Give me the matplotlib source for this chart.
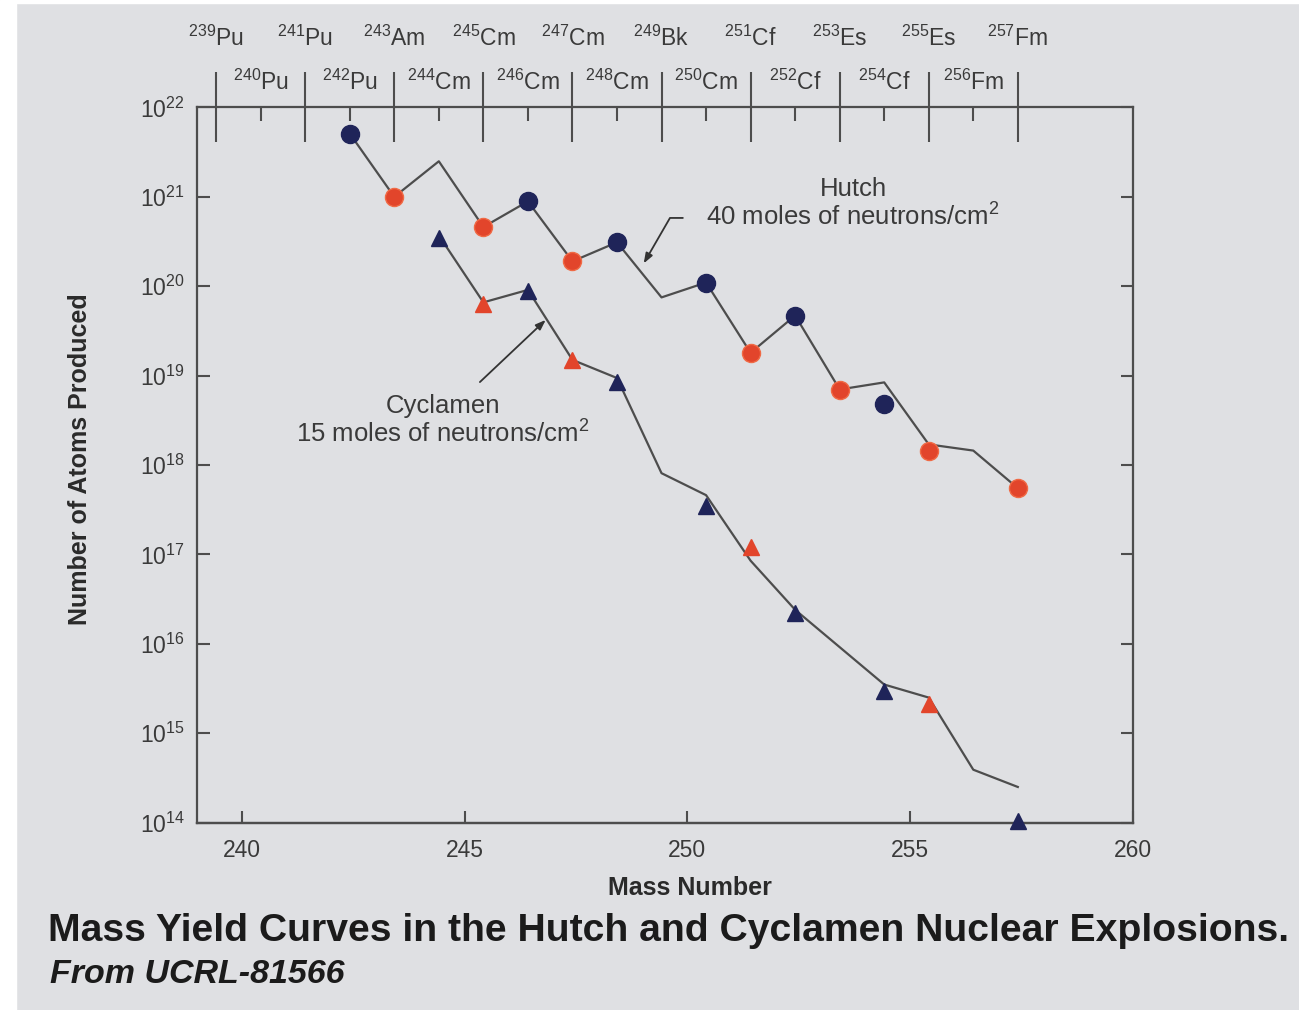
import matplotlib
matplotlib.use('Agg')
import matplotlib.pyplot as plt
from matplotlib.patches import Rectangle
from matplotlib.ticker import NullLocator, LogFormatterMathtext

plt.rcParams['font.family'] = ['Liberation Sans', 'DejaVu Sans']
plt.rcParams['mathtext.fontset'] = 'custom'
plt.rcParams['mathtext.rm'] = 'Liberation Sans'
plt.rcParams['mathtext.it'] = 'Liberation Sans:italic'
plt.rcParams['mathtext.bf'] = 'Liberation Sans:bold'

# isotope scale along the top (odd masses on the upper row, even below)
odd_mass = [239, 241, 243, 245, 247, 249, 251, 253, 255, 257]
odd_elem = ['Pu', 'Pu', 'Am', 'Cm', 'Cm', 'Bk', 'Cf', 'Es', 'Es', 'Fm']
even_mass = [240, 242, 244, 246, 248, 250, 252, 254, 256]
even_elem = ['Pu', 'Pu', 'Cm', 'Cm', 'Cm', 'Cm', 'Cf', 'Cf', 'Fm']

# Hutch: curve and measured points (atoms produced)
hutch_mass = [242, 243, 244, 245, 246, 247, 248, 249, 250, 251, 252, 253, 254, 255, 256, 257]
hutch_curve = [5.1e21, 1.0e21, 2.5e21, 4.6e20, 8.9e20, 1.9e20, 3.1e20, 7.5e19,
               1.1e20, 1.8e19, 4.7e19, 7.0e18, 8.4e18, 1.7e18, 1.45e18, 5.5e17]
hutch_blue_mass = [242, 246, 248, 250, 252, 254]
hutch_blue = [5.1e21, 8.9e20, 3.1e20, 1.1e20, 4.7e19, 4.8e18]
hutch_red_mass = [243, 245, 247, 251, 253, 255, 257]
hutch_red = [1.0e21, 4.6e20, 1.9e20, 1.8e19, 6.9e18, 1.45e18, 5.5e17]

# Cyclamen: curve and measured points
cyc_mass = [244, 245, 246, 247, 248, 249, 250, 251, 252, 254, 255, 256, 257]
cyc_curve = [3.7e20, 6.6e19, 9.1e19, 1.5e19, 9.4e18, 8.1e17, 4.6e17, 8.5e16,
             2.4e16, 3.5e15, 2.5e15, 3.9e14, 2.5e14]
cyc_blue_mass = [244, 246, 248, 250, 252, 254, 257]
cyc_blue = [3.5e20, 8.9e19, 8.5e18, 3.5e17, 2.2e16, 3.0e15, 1.05e14]
cyc_red_mass = [245, 247, 251, 255]
cyc_red = [6.3e19, 1.5e19, 1.2e17, 2.1e15]

mass_ticks = [240, 245, 250, 255, 260]
atom_ticks = [1e14, 1e15, 1e16, 1e17, 1e18, 1e19, 1e20, 1e21, 1e22]
shift = 0.42  # bottom scale runs slightly offset from the isotope scale

bg = '#dfe0e3'
ink = '#3a3a3a'
navy = '#1f2459'
red = '#e2452b'
line_c = '#4d4d4d'

fig = plt.figure(figsize=(12.99, 10.10), dpi=100, facecolor=bg)
ax = fig.add_axes([0.152, 0.1856, 0.720, 0.708])
ax.set_facecolor(bg)

ax.plot(hutch_mass, hutch_curve, color=line_c, lw=1.6, zorder=2)
ax.plot(cyc_mass, cyc_curve, color=line_c, lw=1.6, zorder=2)
ax.plot(hutch_blue_mass, hutch_blue, 'o', ms=13, color=navy, zorder=3)
ax.plot(hutch_red_mass, hutch_red, 'o', ms=13, color=red, mec='#f06a45', mew=1, zorder=3)
ax.plot(cyc_blue_mass, cyc_blue, '^', ms=11, color=navy, zorder=3, clip_on=False)
ax.plot(cyc_red_mass, cyc_red, '^', ms=11, color=red, zorder=3)

ax.set_xlim(239 - shift, 260 - shift)
ax.set_yscale('log')
ax.set_ylim(atom_ticks[0], atom_ticks[-1])
ax.set_yticks(atom_ticks)
ax.yaxis.set_major_formatter(LogFormatterMathtext())
ax.yaxis.set_minor_locator(NullLocator())

# top axis: isotope names
ax.xaxis.set_ticks_position('top')
ax.set_xticks(odd_mass, labels=[f'$^{{{m}}}${e}' for m, e in zip(odd_mass, odd_elem)])
ax.set_xticks(even_mass, labels=[f'$^{{{m}}}${e}' for m, e in zip(even_mass, even_elem)], minor=True)
ax.tick_params(axis='x', which='major', direction='inout', length=50, width=1.5,
               pad=16, labelsize=16.5, labelcolor=ink, color=line_c,
               top=True, bottom=False, labeltop=True, labelbottom=False)
ax.tick_params(axis='x', which='minor', direction='in', length=10, width=1.5,
               pad=9, labelsize=16.5, labelcolor=ink, color=line_c,
               top=True, bottom=False, labeltop=True, labelbottom=False)
ax.tick_params(axis='y', which='major', direction='in', length=9, width=1.5,
               left=True, right=True, pad=9, labelsize=16.5, labelcolor=ink, color=line_c)

# bottom axis: mass number
sec = ax.secondary_xaxis('bottom', functions=(lambda m: m + shift, lambda b: b - shift))
sec.set_xticks(mass_ticks)
sec.tick_params(direction='in', length=9, width=1.5, pad=12, labelsize=16.5,
                labelcolor=ink, color=line_c)
sec.spines['bottom'].set_color(line_c)
sec.spines['bottom'].set_linewidth(1.6)
sec.set_xlabel('Mass Number', fontsize=18, fontweight='bold', color='#2a2a2a',
               labelpad=10, x=0.527, ha='center')

for s in ax.spines.values():
    s.set_color(line_c)
    s.set_linewidth(1.6)

fig.text(0.0616, 0.545, 'Number of Atoms Produced', rotation=90, ha='center', va='center',
         fontsize=18, fontweight='bold', color='#2a2a2a')

# curve labels with pointers
ax.text(0.701, 0.865, 'Hutch\n40 moles of neutrons/cm$^2$', transform=ax.transAxes,
        ha='center', va='center', fontsize=18.5, color=ink, linespacing=1.1)
ax.annotate('', xy=(248.6, 1.8e20), xytext=(0.519, 0.8455), textcoords='axes fraction',
            arrowprops=dict(arrowstyle='-|>,head_length=0.6,head_width=0.22',
                            connectionstyle='angle,angleA=0,angleB=60,rad=0',
                            color='#333333', lw=1.3, shrinkA=0, shrinkB=0))
ax.text(0.2626, 0.5615, 'Cyclamen\n15 moles of neutrons/cm$^2$', transform=ax.transAxes,
        ha='center', va='center', fontsize=18.5, color=ink, linespacing=1.1)
ax.annotate('', xy=(246.4, 4.2e19), xytext=(0.302, 0.616), textcoords='axes fraction',
            arrowprops=dict(arrowstyle='-|>,head_length=0.6,head_width=0.22',
                            color='#333333', lw=1.3, shrinkA=0, shrinkB=0))

fig.text(0.037, 0.0685, 'Mass Yield Curves in the Hutch and Cyclamen Nuclear Explosions.',
         fontsize=28.2, fontweight='bold', color='#1b1b1b', ha='left', va='baseline')
fig.text(0.0385, 0.0265, 'From UCRL-81566', fontsize=24.5, fontweight='bold',
         fontstyle='italic', color='#1b1b1b', ha='left', va='baseline')

# white margin of the slide scan
fig.add_artist(Rectangle((0, 0), 16 / 1299, 1, transform=fig.transFigure,
                         color='white', zorder=-1))
fig.add_artist(Rectangle((0, 1 - 3 / 1010), 1, 3 / 1010, transform=fig.transFigure,
                         color='white', zorder=-1))

fig.savefig('out.png', dpi=100, facecolor=fig.get_facecolor())
